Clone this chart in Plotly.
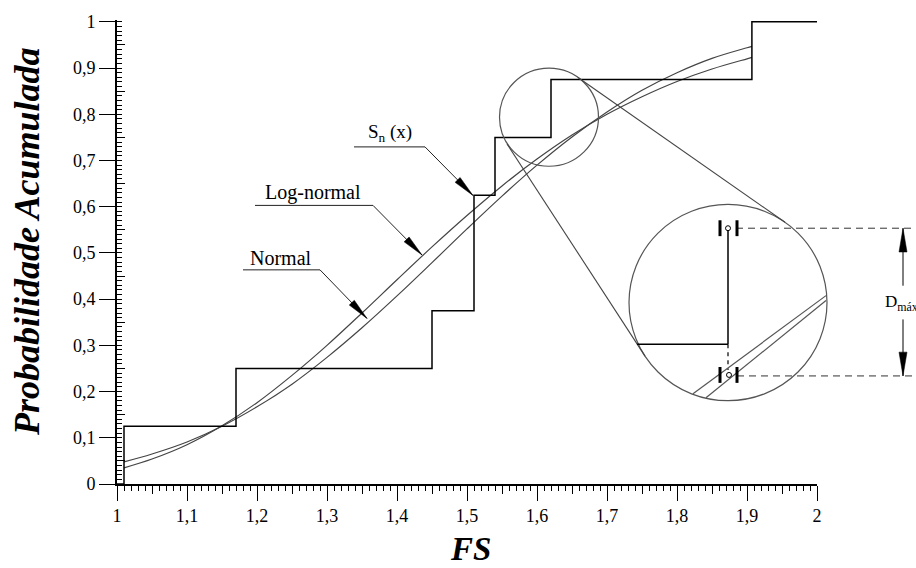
import plotly.graph_objects as go

# ---------------- data ----------------
step_x = [1.0, 1.01, 1.17, 1.45, 1.51, 1.54, 1.62, 1.907, 2.0]
step_y = [0.0, 0.125, 0.25, 0.375, 0.625, 0.75, 0.875, 1.0, 1.0]

curve_x = [1.01, 1.05, 1.10, 1.15, 1.20, 1.25, 1.30, 1.35, 1.40, 1.45,
           1.50, 1.55, 1.60, 1.65, 1.70, 1.75, 1.80, 1.85, 1.90, 1.907]
normal_y = [0.048, 0.065, 0.091, 0.125, 0.167, 0.216, 0.274, 0.338, 0.407, 0.479,
            0.552, 0.623, 0.690, 0.751, 0.805, 0.852, 0.890, 0.921, 0.944, 0.947]
lognormal_y = [0.035, 0.054, 0.085, 0.126, 0.176, 0.235, 0.300, 0.370, 0.442, 0.513,
               0.581, 0.645, 0.703, 0.755, 0.800, 0.838, 0.871, 0.898, 0.920, 0.923]

x_tickvals = [1.0, 1.1, 1.2, 1.3, 1.4, 1.5, 1.6, 1.7, 1.8, 1.9, 2.0]
x_ticktext = ["1", "1,1", "1,2", "1,3", "1,4", "1,5", "1,6", "1,7", "1,8", "1,9", "2"]
x_midticks = [1.05, 1.15, 1.25, 1.35, 1.45, 1.55, 1.65, 1.75, 1.85, 1.95]
y_tickvals = [0.0, 0.1, 0.2, 0.3, 0.4, 0.5, 0.6, 0.7, 0.8, 0.9, 1.0]
y_ticktext = ["0", "0,1", "0,2", "0,3", "0,4", "0,5", "0,6", "0,7", "0,8", "0,9", "1"]
y_midticks = [0.05, 0.15, 0.25, 0.35, 0.45, 0.55, 0.65, 0.75, 0.85, 0.95]

# ---------------- layout geometry ----------------
W, H = 916, 568
ML, MR, MT, MB = 117, 99, 16, 84
PW, PH = W - ML - MR, H - MT - MB
XR = [1.0, 2.0]
YR = [0.0, 1.004]
FONT = "Liberation Serif"


def P(px, py):
    return (px - ML) / PW, (H - MB - py) / PH


shapes = []


def line(p1, p2, color="black", width=1.2, dash="solid"):
    x0, y0 = P(*p1)
    x1, y1 = P(*p2)
    shapes.append(dict(type="line", xref="paper", yref="paper", x0=x0, y0=y0, x1=x1, y1=y1,
                       line=dict(color=color, width=width, dash=dash), layer="above"))


def circle(c, r, color="#555", width=1.2):
    x0, y0 = P(c[0] - r, c[1] + r)
    x1, y1 = P(c[0] + r, c[1] - r)
    shapes.append(dict(type="circle", xref="paper", yref="paper", x0=x0, y0=y0, x1=x1, y1=y1,
                       line=dict(color=color, width=width), layer="above"))


def head(tail, tip, length=22, half=3.5):
    dx, dy = tip[0] - tail[0], tip[1] - tail[1]
    d = (dx * dx + dy * dy) ** 0.5
    ux, uy = dx / d, dy / d
    vx, vy = -uy, ux
    bx, by = tip[0] - length * ux, tip[1] - length * uy
    pts = [tip, (bx + half * vx, by + half * vy), (bx - half * vx, by - half * vy)]
    pp = [P(*p) for p in pts]
    path = "M {} {} L {} {} L {} {} Z".format(pp[0][0], pp[0][1], pp[1][0], pp[1][1], pp[2][0], pp[2][1])
    shapes.append(dict(type="path", xref="paper", yref="paper", path=path,
                       fillcolor="black", line=dict(color="black", width=0.5), layer="above"))


# label leaders
for ul0, ul1, tip in [((354, 144), (425, 144), (473, 193)),
                      ((255, 203), (373, 203), (422, 253)),
                      ((243, 268), (320, 268), (367, 317))]:
    line(ul0, ul1, color="#222", width=1)
    line(ul1, tip, color="#222", width=1)
    head(ul1, tip)

# zoom circles and connectors
circle((549, 114), 49.5)
circle((728, 301), 99)
line((578, 74), (785, 220), color="#444", width=1.1)
line((507, 141), (645, 355), color="#444", width=1.1)

# magnified content
line((637, 343), (728, 343), width=1.5)
line((728, 228), (728, 343), width=1.5)
line((728, 343), (728, 369), width=1.2, dash="4px,4px")
line((693, 393), (826, 294), color="#555", width=1.2)
line((706, 397), (826, 299), color="#555", width=1.2)
line((736, 226), (916, 226), color="#333", width=1, dash="7px,5px")
line((737, 375), (916, 375), color="#333", width=1, dash="7px,5px")
for (cx, cy) in [(728, 226), (729, 374)]:
    circle((cx, cy), 2.5, color="black", width=1)
    line((720, cy - 8), (720, cy + 8), width=3)
    line((737, cy - 8), (737, cy + 8), width=3)

# D max dimension
line((903, 226), (903, 284), width=1)
line((903, 318), (903, 375), width=1)
head((903, 284), (903, 226), length=24, half=4)
head((903, 318), (903, 375), length=24, half=4)

# ---------------- figure ----------------
fig = go.Figure()
fig.add_trace(go.Scatter(x=curve_x, y=normal_y, mode="lines", line=dict(color="#444", width=1.2, shape="spline"),
                         name="Normal", hoverinfo="skip"))
fig.add_trace(go.Scatter(x=curve_x, y=lognormal_y, mode="lines", line=dict(color="#444", width=1.2, shape="spline"),
                         name="Log-normal", hoverinfo="skip"))
fig.add_trace(go.Scatter(x=step_x, y=step_y, mode="lines", line=dict(color="black", width=1.5, shape="hv"),
                         name="Sn(x)", hoverinfo="skip"))
# helper traces so the mid-tick overlay axes are drawn
fig.add_trace(go.Scatter(x=[1.5], y=[0.5], xaxis="x2", yaxis="y", mode="markers",
                         marker=dict(opacity=0), hoverinfo="skip", showlegend=False))
fig.add_trace(go.Scatter(x=[1.5], y=[0.5], xaxis="x", yaxis="y2", mode="markers",
                         marker=dict(opacity=0), hoverinfo="skip", showlegend=False))

tickfont = dict(family=FONT, size=18, color="black")

annotations = []


def text(t, px, py, size=20, xanchor="center", angle=0):
    x, y = P(px, py)
    annotations.append(dict(text=t, x=x, y=y, xref="paper", yref="paper", showarrow=False,
                            xanchor=xanchor, yanchor="middle", textangle=angle,
                            font=dict(family=FONT, size=size, color="black")))


text("S<sub>n</sub> (x)", 390, 130, size=19)
text("Log-normal", 313, 190, size=20)
text("Normal", 281, 256, size=20)
text("D<sub>máx</sub>", 883, 301, size=17, xanchor="left")
text("<b><i>Probabilidade Acumulada</i></b>", 27, 240, size=36, angle=-90)
text("<b><i>FS</i></b>", 470, 550, size=33)

fig.update_layout(
    width=W, height=H,
    margin=dict(l=ML, r=MR, t=MT, b=MB),
    paper_bgcolor="white", plot_bgcolor="white",
    showlegend=False,
    shapes=shapes,
    annotations=annotations,
    xaxis=dict(range=XR, tickmode="array", tickvals=x_tickvals, ticktext=x_ticktext,
               ticks="outside", ticklen=15, tickwidth=1.2, tickcolor="black",
               minor=dict(tickmode="linear", tick0=1.0, dtick=0.01, ticks="outside", ticklen=5,
                          tickwidth=1, tickcolor="black", showgrid=False),
               showline=True, linecolor="black", linewidth=1.6, showgrid=False, zeroline=False,
               tickfont=tickfont),
    xaxis2=dict(range=XR, overlaying="x", anchor="y", side="bottom", tickmode="array",
                tickvals=x_midticks, ticks="outside", ticklen=9, tickwidth=1, tickcolor="black",
                showticklabels=False, showline=False, showgrid=False, zeroline=False),
    yaxis=dict(range=YR, tickmode="array", tickvals=y_tickvals, ticktext=y_ticktext,
               ticks="outside", ticklen=16, tickwidth=1.2, tickcolor="black",
               minor=dict(tickmode="linear", tick0=0.0, dtick=0.01, ticks="inside", ticklen=5,
                          tickwidth=1, tickcolor="black", showgrid=False),
               showline=True, linecolor="black", linewidth=1.6, showgrid=False, zeroline=False,
               tickfont=tickfont),
    yaxis2=dict(range=YR, overlaying="y", anchor="x", side="left", tickmode="array",
                tickvals=y_midticks, ticks="inside", ticklen=8, tickwidth=1, tickcolor="black",
                showticklabels=False, showline=False, showgrid=False, zeroline=False),
)

fig.write_html("out.html", config={"displayModeBar": False},
               post_script="document.body.style.margin='0';document.body.style.overflow='hidden';")
